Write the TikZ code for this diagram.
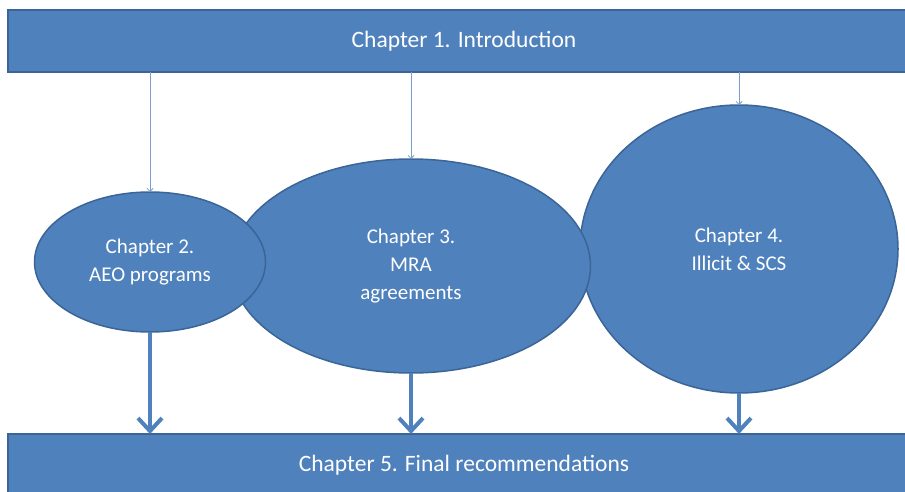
\documentclass[tikz,border=0pt]{standalone}
\usepackage{fontspec}
\setmainfont{Carlito}
\usetikzlibrary{shapes.geometric,arrows.meta}
\definecolor{boxfill}{HTML}{4F81BD}
\definecolor{boxline}{HTML}{3A6596}
\definecolor{thinarrow}{HTML}{7C9CCB}
\tikzset{
  bar/.style={rectangle, fill=boxfill, draw=boxline, line width=1.2pt, minimum width=912pt, inner sep=0pt, outer sep=0pt, text=white, font=\fontsize{23.5}{28}\selectfont},
  chap/.style={ellipse, fill=boxfill, draw=boxline, line width=1.5pt, inner sep=0pt, outer sep=0pt, text=white, align=center, font=\fontsize{21}{28}\selectfont},
  thinarr/.style={draw=thinarrow, line width=0.8pt, -{Straight Barb[length=3pt,width=6pt]}},
  thickarr/.style={draw=boxfill, line width=4pt, -{Straight Barb[length=13pt,width=24pt]}}
}
\begin{document}
\begin{tikzpicture}[x=1pt,y=-1pt]
\useasboundingbox (0,0) rectangle (905,492);
\clip (0,0) rectangle (905,492);
\node[bar, minimum height=62pt] (top) at (464,41) {Chapter 1. Introduction};
\node[bar, minimum height=62pt] (bot) at (464,465) {Chapter 5. Final recommendations};
\node[chap, minimum width=318pt, minimum height=288pt] (e3) at (739,249) {Chapter 4.\\Illicit \& SCS};
\node[chap, minimum width=359pt, minimum height=214pt] (e2) at (411,266) {Chapter 3.\\MRA\\agreements};
\node[chap, minimum width=231pt, minimum height=140pt] (e1) at (150,262) {Chapter 2.\\AEO programs};
\draw[thinarr] (e1.north |- top.south) -- (e1.north);
\draw[thinarr] (e2.north |- top.south) -- (e2.north);
\draw[thinarr] (e3.north |- top.south) -- (e3.north);
\draw[thickarr] (e1.south) -- (e1.south |- bot.north);
\draw[thickarr] (e2.south) -- (e2.south |- bot.north);
\draw[thickarr] (e3.south) -- (e3.south |- bot.north);
\end{tikzpicture}
\end{document}
